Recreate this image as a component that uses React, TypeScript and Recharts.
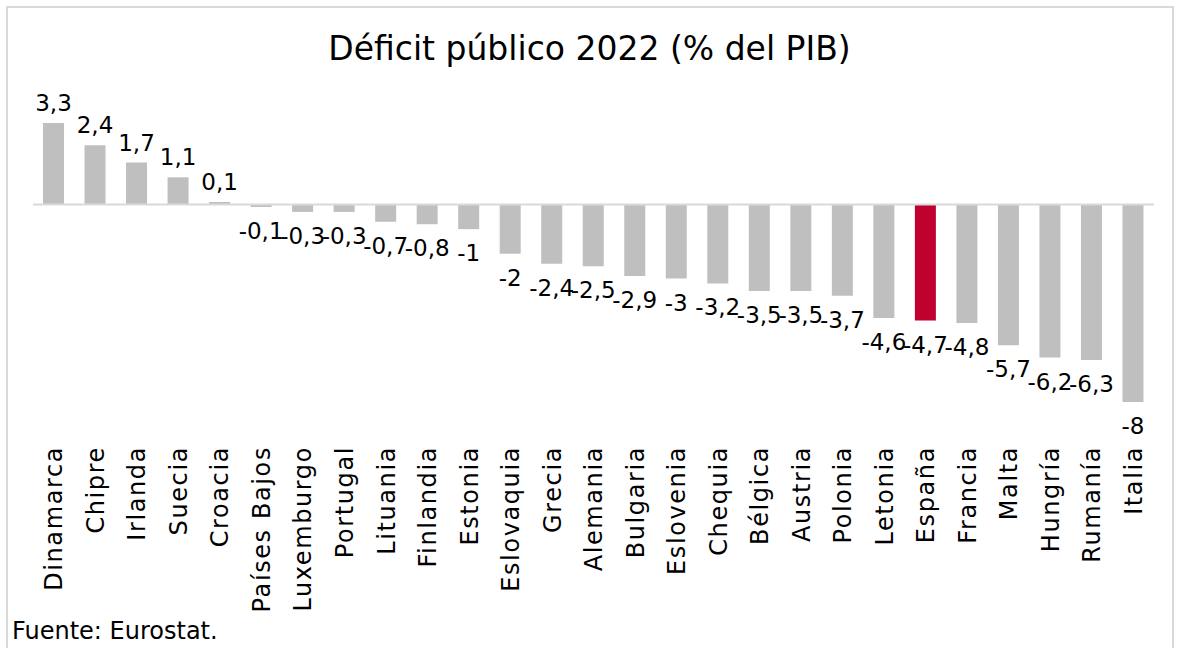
import React from 'react';
import { BarChart, Bar, XAxis, YAxis, Cell, LabelList, ReferenceLine } from 'recharts';

const countries = [
  'Dinamarca', 'Chipre', 'Irlanda', 'Suecia', 'Croacia', 'Países Bajos', 'Luxemburgo',
  'Portugal', 'Lituania', 'Finlandia', 'Estonia', 'Eslovaquia', 'Grecia', 'Alemania',
  'Bulgaria', 'Eslovenia', 'Chequia', 'Bélgica', 'Austria', 'Polonia', 'Letonia',
  'España', 'Francia', 'Malta', 'Hungría', 'Rumanía', 'Italia',
];

const deficit = [
  3.3, 2.4, 1.7, 1.1, 0.1, -0.1, -0.3, -0.3, -0.7, -0.8, -1, -2, -2.4, -2.5,
  -2.9, -3, -3.2, -3.5, -3.5, -3.7, -4.6, -4.7, -4.8, -5.7, -6.2, -6.3, -8,
];

const highlight = 'España';

const data = countries.map((name, i) => ({ name, value: deficit[i] }));

const FONT = '"DejaVu Sans", Verdana, sans-serif';

const fmt = (v: number) => String(v).replace('.', ',');

const ValueLabel = (props: any) => {
  const { x, y, width, height, value } = props;
  const top = Math.min(y, y + height);
  const bottom = Math.max(y, y + height);
  const cx = x + width / 2;
  const ty = value >= 0 ? top - 12 : bottom + 32;
  return (
    <text x={cx} y={ty} textAnchor="middle" fontFamily={FONT} fontSize={23} fill="#000">
      {fmt(value)}
    </text>
  );
};

const CountryTick = (props: any) => {
  const { x, y, payload } = props;
  const ty = y + 36;
  return (
    <text
      x={x}
      y={ty}
      transform={`rotate(-90, ${x}, ${ty})`}
      textAnchor="end"
      dy="0.36em"
      fontFamily={FONT}
      fontSize={24}
      letterSpacing={1.6}
      fill="#000"
    >
      {payload.value}
    </text>
  );
};

export default function App() {
  return (
    <div style={{ position: 'absolute', left: 0, top: 0, width: 1179, height: 648, background: '#fff', overflow: 'hidden' }}>
      <div
        style={{
          position: 'absolute', left: 6, top: 6, width: 1168, height: 660,
          border: '2px solid #d9d9d9', boxSizing: 'border-box',
        }}
      />
      <div
        style={{
          position: 'absolute', left: 0, top: 29, width: 1179, textAlign: 'center',
          fontFamily: FONT, fontSize: 33, color: '#000',
        }}
      >
        Déficit público 2022 (% del PIB)
      </div>
      <div style={{ position: 'absolute', left: 0, top: 0 }}>
        <BarChart
          width={1179}
          height={648}
          data={data}
          margin={{ top: 123, right: 25, bottom: 0, left: 33 }}
        >
          <XAxis
            dataKey="name"
            interval={0}
            axisLine={false}
            tickLine={false}
            height={246}
            tick={<CountryTick />}
          />
          <YAxis hide domain={[-8, 3.3]} />
          <ReferenceLine y={0} stroke="#d9d9d9" strokeWidth={2} />
          <Bar dataKey="value" barSize={21} isAnimationActive={false}>
            {data.map((d) => (
              <Cell key={d.name} fill={d.name === highlight ? '#c0002f' : '#bfbfbf'} />
            ))}
            <LabelList dataKey="value" content={<ValueLabel />} />
          </Bar>
        </BarChart>
      </div>
      <div
        style={{
          position: 'absolute', left: 12, top: 617, fontFamily: FONT, fontSize: 24, color: '#000',
        }}
      >
        Fuente: Eurostat.
      </div>
    </div>
  );
}
